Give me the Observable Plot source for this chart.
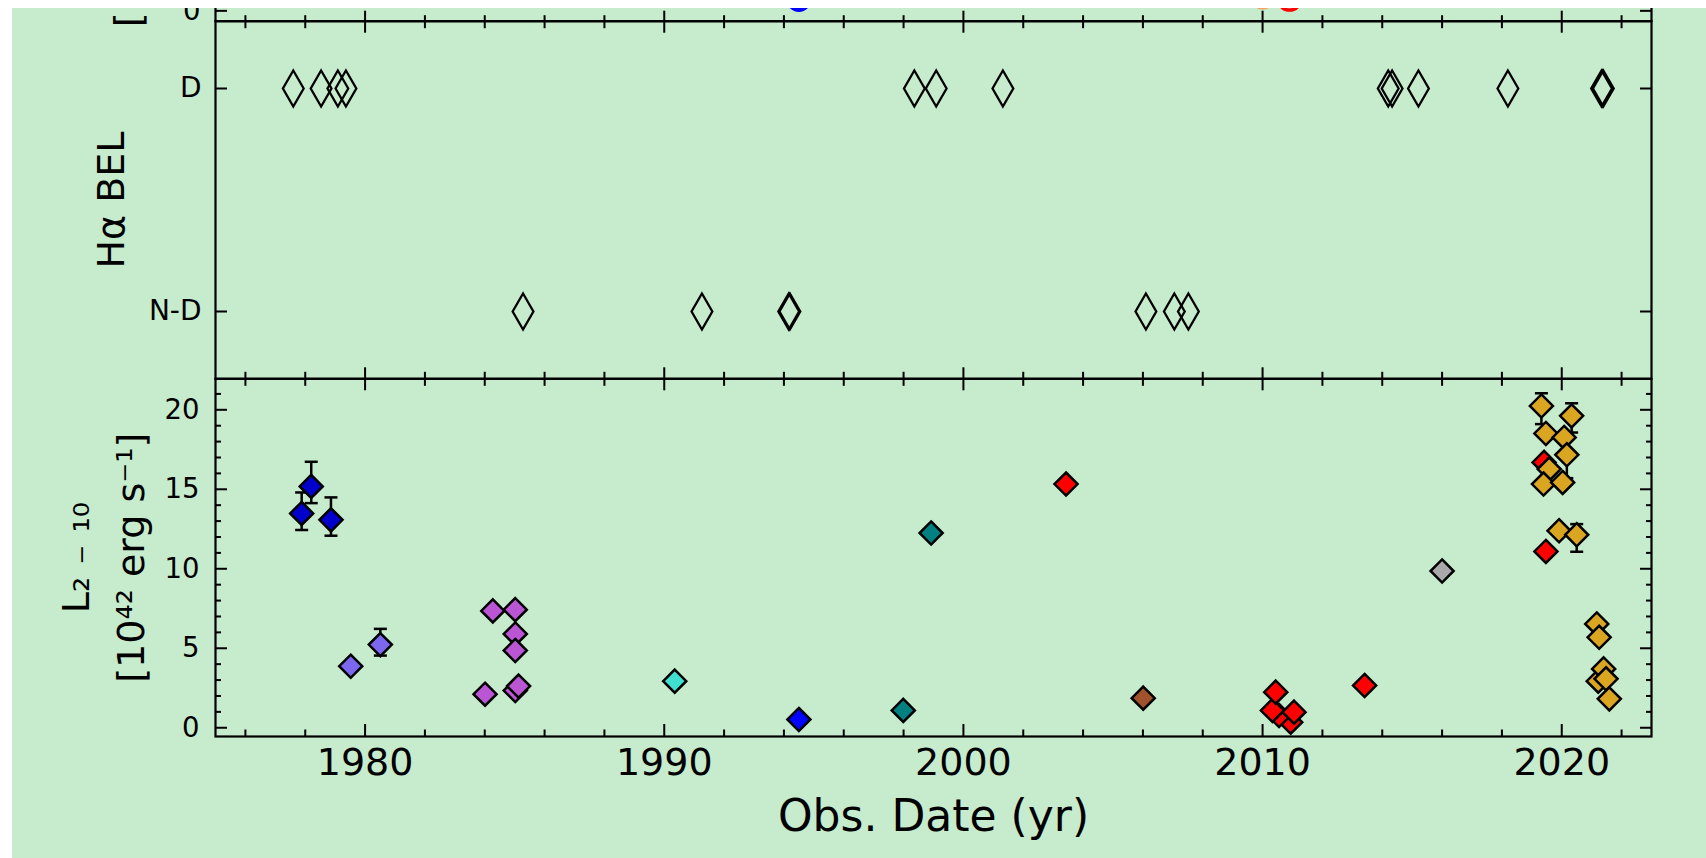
<!DOCTYPE html>
<html>
<head>
<meta charset="utf-8">
<script src="https://cdn.jsdelivr.net/npm/d3@7"></script>
<script src="https://cdn.jsdelivr.net/npm/@observablehq/plot@0.6"></script>
<style>
  html, body { margin: 0; padding: 0; background: #ffffff; width: 1706px; height: 858px; overflow: hidden; }
  #wrap { position: absolute; left: 12px; top: 8px; width: 1694px; height: 850px; overflow: hidden; background: #c7ebcd; }
  #wrap svg { position: absolute; left: -12px; top: -8px; width: 1706px !important; height: 858px !important; max-width: none !important; }
</style>
</head>
<body>
<div id="wrap"></div>
<script>
// ---------------- data ----------------
const xDomain = [1975, 2023];
const xMajor = [1980, 1990, 2000, 2010, 2020];
const xMinor = [1976, 1978, 1982, 1984, 1986, 1988, 1992, 1994, 1996, 1998, 2002, 2004, 2006, 2008, 2012, 2014, 2016, 2018, 2022];

// upper (cut-off) panel
const topYears = [1994.5, 2010.0, 2010.9];
const topValues = [0.33, 0.40, 0.34];
const topTicks = [0];
const topLabel = "[10⁻¹¹ erg cm⁻² s⁻¹]";

// H-alpha broad emission line panel
const belClasses = ["D", "N-D"];
const belDYears = [1977.6, 1978.53, 1979.09, 1979.36, 1998.36, 1999.09, 2001.32, 2014.2, 2014.33, 2015.21, 2018.2, 2021.33, 2021.36, 2021.39];
const belNDYears = [1985.28, 1991.26, 1994.16, 1994.2, 2006.1, 2007.05, 2007.52];
const belLabel = "Hα BEL";

// luminosity panel
const lumGroupIds = ["g1", "g2", "g3", "g4", "g5", "g6", "g7", "g8", "g9", "g10"];
const lumYears = [
  1977.88, 1978.2, 1978.86,
  1979.52, 1980.51,
  1984.01, 1984.27, 1985.02, 1985.02, 1985.02, 1985.02, 1985.13,
  1990.35,
  1994.5,
  1997.99, 1998.92,
  2003.43, 2010.94, 2010.55, 2010.33, 2011.05, 2010.44, 2013.41, 2019.41, 2019.47,
  2006.01,
  2016.0,
  2019.32, 2020.33, 2019.47, 2020.08, 2020.17, 2019.58, 2019.39, 2020.03, 2019.91, 2020.5,
  2021.17, 2021.25, 2021.22, 2021.4, 2021.48, 2021.59
];
const lumValues = [
  13.48, 15.18, 13.08,
  3.87, 5.23,
  2.11, 7.35, 7.43, 5.9, 4.86, 2.34, 2.62,
  2.93,
  0.52,
  1.09, 12.25,
  15.33, 0.35, 0.77, 1.09, 0.98, 2.24, 2.66, 16.69, 11.09,
  1.86,
  9.86,
  20.24, 19.62, 18.51, 18.26, 17.17, 16.27, 15.33, 15.43, 12.39, 12.14,
  6.53, 5.69, 2.93, 3.7, 3.08, 1.82
];
const lumGroups = [
  "g1", "g1", "g1",
  "g2", "g2",
  "g3", "g3", "g3", "g3", "g3", "g3", "g3",
  "g4",
  "g5",
  "g6", "g6",
  "g7", "g7", "g7", "g7", "g7", "g7", "g7", "g7", "g7",
  "g8",
  "g9",
  "g10", "g10", "g10", "g10", "g10", "g10", "g10", "g10", "g10", "g10",
  "g10", "g10", "g10", "g10", "g10", "g10"
];
const errYears = [1977.88, 1978.2, 1978.86, 1980.51, 2019.32, 2020.33, 2020.17, 2020.5];
const errLow   = [12.44, 14.13, 12.08, 4.54, 19.1, 18.57, 15.7, 11.07];
const errHigh  = [14.8, 16.73, 14.49, 6.22, 21.04, 20.41, 18.6, 12.81];
const yMajor = [0, 5, 10, 15, 20];
const yMinor = [1, 2, 3, 4, 6, 7, 8, 9, 11, 12, 13, 14, 16, 17, 18, 19, 21];
const lumLabel1 = "L₂ ₋ ₁₀";
const lumLabel2 = "[10⁴² erg s⁻¹]";
const xLabel = "Obs. Date (yr)";

// ---------------- styling ----------------
const INK = "black";
const palette = ["mediumblue", "mediumslateblue", "mediumorchid", "turquoise", "blue", "teal", "red", "sienna", "darkgray", "goldenrod"];
const FONT = "DejaVu Sans";

function xTicks(anchor, ticks, len, dy) {
  return Plot.axisX({anchor, ticks, tickSize: len, dy, fill: "none", stroke: INK, strokeWidth: 2, label: null});
}
function yTicks(anchor, ticks, len, dx) {
  return Plot.axisY({anchor, ticks, tickSize: len, dx, fill: "none", stroke: INK, strokeWidth: 2, label: null});
}
function base(opts) {
  return Plot.plot({
    width: 1706, height: 858,
    marginLeft: 215, marginRight: 55,
    x: {domain: xDomain, axis: null},
    style: {background: "transparent", fontFamily: FONT, color: "black", overflow: "visible", maxWidth: "none"},
    ...opts
  });
}
const capSymbol = {draw(ctx) { ctx.moveTo(-6.5, 0); ctx.lineTo(6.5, 0); }};
const fmt = d => `${d}`;

// ---------------- upper (cut) panel ----------------
const upper = base({
  marginTop: 0, marginBottom: 858 - 20.7,
  y: {domain: [-0.3, 0.3], axis: null},
  marks: [
    Plot.frame({stroke: INK, strokeWidth: 2.2}),
    yTicks("left", topTicks, 12, 12),
    yTicks("right", topTicks, 12, -12),
    Plot.axisY({anchor: "left", ticks: topTicks, tickSize: 0, tickPadding: 15, fontSize: 27.5, tickFormat: fmt, label: null}),
    Plot.dot([0], {x: i => topYears[i], y: i => topValues[i], r: 12.5, fill: "blue", stroke: "none"}),
    Plot.dot([1], {x: i => topYears[i], y: i => topValues[i], r: 12.5, fill: "sandybrown", stroke: "none"}),
    Plot.dot([2], {x: i => topYears[i], y: i => topValues[i], r: 11, fill: "none", stroke: "red", strokeWidth: 3.5}),
    Plot.text([topLabel], {frameAnchor: "bottom-left", text: d => d, rotate: -90, textAnchor: "start", lineAnchor: "middle", dx: -87, dy: 6, fontSize: 38})
  ]
});

// ---------------- H-alpha panel ----------------
const belRows = [
  ...belDYears.map(x => ({x, c: belClasses[0]})),
  ...belNDYears.map(x => ({x, c: belClasses[1]}))
];
const middle = base({
  marginTop: 20.7, marginBottom: 858 - 378.3,
  y: {type: "point", domain: belClasses, padding: 0.3, axis: null},
  marks: [
    Plot.frame({stroke: INK, strokeWidth: 2.2}),
    xTicks("top", xMajor, 22, 11),
    xTicks("top", xMinor, 13, 6.5),
    xTicks("bottom", xMajor, 11, -11),
    xTicks("bottom", xMinor, 6.5, -6.5),
    yTicks("left", belClasses, 12, 12),
    yTicks("right", belClasses, 12, -12),
    Plot.axisY({anchor: "left", ticks: belClasses, tickSize: 0, tickPadding: 14, fontSize: 28, label: null}),
    Plot.dot(belRows, {x: "x", y: "c", symbol: "diamond", r: 10.9, fill: "none", stroke: INK, strokeWidth: 2.3}),
    Plot.text([belLabel], {frameAnchor: "left", text: d => d, rotate: -90, textAnchor: "middle", lineAnchor: "middle", dx: -104, fontSize: 38})
  ]
});

// ---------------- luminosity panel ----------------
const lumIdx = lumYears.map((_, i) => i);
const errIdx = errYears.map((_, i) => i);
const capRows = [
  ...errIdx.map(i => ({x: errYears[i], y: errLow[i]})),
  ...errIdx.map(i => ({x: errYears[i], y: errHigh[i]}))
];
const lower = base({
  marginTop: 378.3, marginBottom: 122,
  y: {domain: [-0.55, 21.95], axis: null},
  color: {domain: lumGroupIds, range: palette},
  marks: [
    Plot.frame({stroke: INK, strokeWidth: 2.2}),
    xTicks("top", xMajor, 11, 11),
    xTicks("top", xMinor, 6.5, 6.5),
    xTicks("bottom", xMajor, 12, -12),
    xTicks("bottom", xMinor, 6.5, -6.5),
    Plot.axisX({anchor: "bottom", ticks: xMajor, tickSize: 0, tickPadding: 12, fontSize: 38, tickFormat: fmt, label: null}),
    yTicks("left", yMajor, 12, 12),
    yTicks("left", yMinor, 6, 6),
    yTicks("right", yMajor, 12, -12),
    yTicks("right", yMinor, 6, -6),
    Plot.axisY({anchor: "left", ticks: yMajor, tickSize: 0, tickPadding: 16, fontSize: 27.5, tickFormat: fmt, label: null}),
    Plot.ruleX(errIdx, {x: i => errYears[i], y1: i => errLow[i], y2: i => errHigh[i], stroke: INK, strokeWidth: 2.5}),
    Plot.dot(capRows, {x: "x", y: "y", symbol: capSymbol, fill: "none", stroke: INK, strokeWidth: 2.5}),
    Plot.dot(lumIdx, {x: i => lumYears[i], y: i => lumValues[i], fill: i => lumGroups[i], symbol: "diamond2", r: 10.4, stroke: INK, strokeWidth: 2.5}),
    Plot.text([lumLabel1], {frameAnchor: "left", text: d => d, rotate: -90, textAnchor: "middle", lineAnchor: "middle", dx: -139, fontSize: 38}),
    Plot.text([lumLabel2], {frameAnchor: "left", text: d => d, rotate: -90, textAnchor: "middle", lineAnchor: "middle", dx: -84, fontSize: 38}),
    Plot.text([xLabel], {frameAnchor: "bottom", text: d => d, lineAnchor: "bottom", dy: 94, fontSize: 44})
  ]
});

const wrap = document.getElementById("wrap");
wrap.append(upper, middle, lower);
</script>
</body>
</html>
